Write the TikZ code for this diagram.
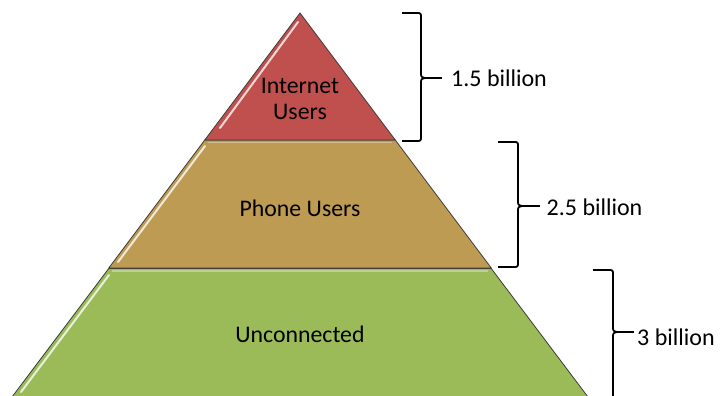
\documentclass[tikz,border=0pt]{standalone}
\usepackage{fontspec}
\setmainfont{Carlito}
\definecolor{tierred}{HTML}{C0504D}
\definecolor{tiertan}{HTML}{BE9B53}
\definecolor{tiergreen}{HTML}{9BBB59}
\definecolor{edgegray}{HTML}{3A3A3A}

% curly brace: #1 outer x, #2 spine x, #3 top y, #4 middle y, #5 bottom y, #6 tip name
\newcommand\pyrbrace[6]{%
  \draw[bracepath] (#1,#3) -- ({#2-5},#3) .. controls (#2,#3) .. (#2,{#3+5})
    -- (#2,{#4-6}) .. controls (#2,{#4-1}) .. ({#2+4},#4)
    .. controls (#2,{#4+1}) .. (#2,{#4+6})
    -- (#2,{#5-5}) .. controls (#2,#5) .. ({#2-5},#5) -- (#1,#5);
  \coordinate (#6) at ({#2+4},#4);
}

\begin{document}
\begin{tikzpicture}[x=1pt,y=-1pt,
  tier/.style={draw=edgegray, line width=0.8pt, line join=miter},
  gloss/.style={line width=2pt, line cap=round, white, opacity=0.78},
  rim/.style={line width=1.4pt, white, opacity=0.35},
  tiertext/.style={font=\fontsize{23.8}{26}\selectfont, align=center, inner sep=0pt},
  bracepath/.style={line width=1.8pt, line join=round, black},
  amount/.style={font=\fontsize{24}{26}\selectfont, inner ysep=0pt, anchor=base west}
]
\useasboundingbox (0,0) rectangle (723,396);

% pyramid tiers (apex at 300,13; side slope 0.75)
\fill[tiergreen] (108.75,268.5) -- (491.25,268.5) -- (591.75,402) -- (8.25,402) -- cycle;
\draw[tier] (8.25,402) -- (108.75,268.5) -- (491.25,268.5) -- (591.75,402);
\fill[tiertan] (204.75,140) -- (395.25,140) -- (491.25,268) -- (108.75,268) -- cycle;
\draw[tier] (204.75,140) -- (395.25,140) -- (491.25,268) -- (108.75,268) -- cycle;
\fill[tierred] (300,13) -- (395.25,140) -- (204.75,140) -- cycle;
\draw[tier] (300,13) -- (395.25,140) -- (204.75,140) -- cycle;

% glossy highlights
\draw[gloss] (298,22) -- (220,128);
\draw[gloss] (205,146) -- (118,262);
\draw[gloss] (109,275) -- (21,392);
\draw[rim] (112,271) -- (488,271);
\draw[rim] (208,142.5) -- (392,142.5);

% tier captions
\node[tiertext] (internet) at (300,99) {Internet\\Users};
\node[tiertext, anchor=base] (phone) at (300,216) {Phone Users};
\node[tiertext, anchor=base] (unconnected) at (300,342) {Unconnected};

% braces with their amounts
\pyrbrace{402}{421}{13}{78}{141}{tipa}
\pyrbrace{498}{518}{142}{206}{267}{tipb}
\pyrbrace{593}{613}{270}{332}{402}{tipc}

\node[amount, inner xsep=9pt] (amounta) at (442,86) {1.5 billion};
\node[amount, inner xsep=6.5pt] (amountb) at (540,215) {2.5 billion};
\node[amount, inner xsep=3pt] (amountc) at (634,345) {3 billion};

\draw[bracepath] (tipa) -- (tipa -| amounta.west);
\draw[bracepath] (tipb) -- (tipb -| amountb.west);
\draw[bracepath] (tipc) -- (tipc -| amountc.west);
\end{tikzpicture}
\end{document}
